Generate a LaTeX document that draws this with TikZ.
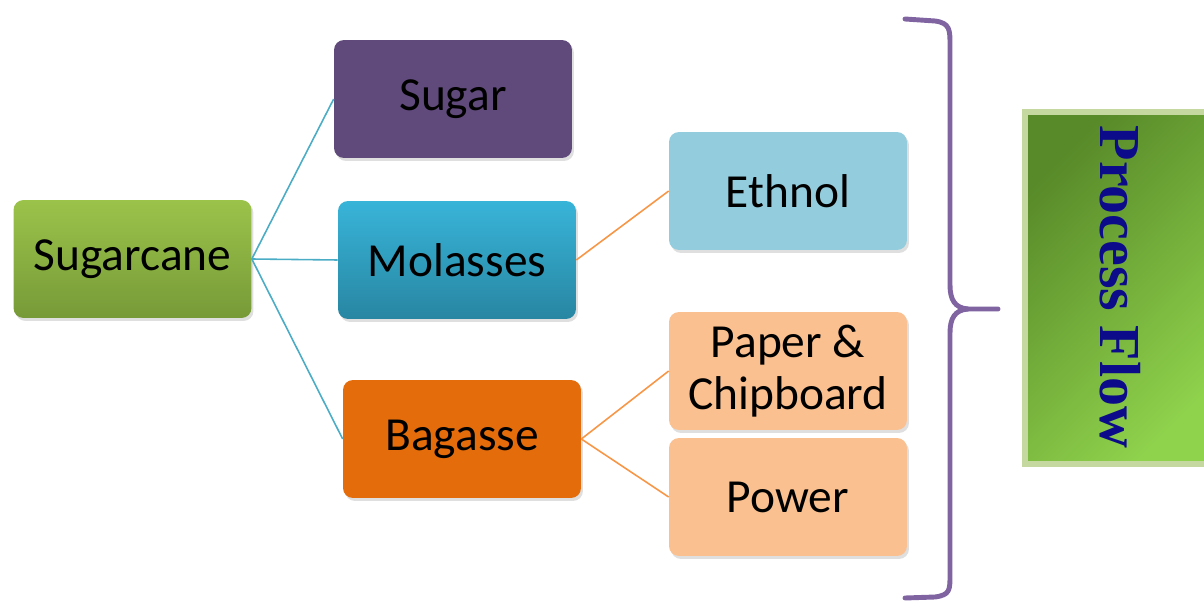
\documentclass[tikz,border=0pt]{standalone}
\usepackage{fontspec}
\setmainfont{Carlito}
\newfontfamily\titlefont{Liberation Serif}
\usetikzlibrary{shadows}
\definecolor{canegreen}{HTML}{9BC34A}
\definecolor{canegreendark}{HTML}{779A38}
\definecolor{sugarpurple}{HTML}{604A7B}
\definecolor{molblue}{HTML}{38B4D9}
\definecolor{molbluedark}{HTML}{2886A2}
\definecolor{ethblue}{HTML}{93CDDD}
\definecolor{bagorange}{HTML}{E46C0A}
\definecolor{lightorange}{HTML}{FAC090}
\definecolor{linkblue}{HTML}{4BACC6}
\definecolor{linkorange}{HTML}{F79646}
\definecolor{bracepurple}{HTML}{8064A2}
\definecolor{flowdark}{HTML}{588A29}
\definecolor{flowlight}{HTML}{8FD24C}
\definecolor{flowborder}{HTML}{C4D8A0}
\definecolor{flowtext}{HTML}{0C0C8A}
\tikzset{
  stage/.style={rounded corners=0.2cm, minimum width=4.76cm, minimum height=2.36cm,
    align=center, font=\fontsize{27}{29.5}\selectfont,
    drop shadow={opacity=0.25, shadow xshift=0.04cm, shadow yshift=-0.06cm}},
  link/.style={line width=0.9pt}
}
\begin{document}
\begin{tikzpicture}[x=0.02cm,y=-0.02cm]
	\useasboundingbox (0,0) rectangle (1204,601);

	% the boxes
		\node[stage, top color=canegreen, bottom color=canegreendark] (cane) at (132.5,259) {Sugarcane};
		\node[stage, fill=sugarpurple] (sugar) at (453,99) {Sugar};
		\node[stage, top color=molblue, bottom color=molbluedark] (molasses) at (457,260) {Molasses};
		\node[stage, fill=ethblue] (ethnol) at (788,191) {Ethnol};
		\node[stage, fill=bagorange] (bagasse) at (462,439) {Bagasse};
		\node[stage, fill=lightorange] (paper) at (788,371) {Paper \&\\Chipboard};
		\node[stage, fill=lightorange] (power) at (788,497) {Power};

	% the links
		\draw[link, linkblue] (cane.east) -- (sugar.west);
		\draw[link, linkblue] (cane.east) -- (molasses.west);
		\draw[link, linkblue] (cane.east) -- (bagasse.west);
		\draw[link, linkorange] (molasses.east) -- (ethnol.west);
		\draw[link, linkorange] (bagasse.east) -- (paper.west);
		\draw[link, linkorange] (bagasse.east) -- (power.west);

	% the brace
		\draw[bracepurple, line width=2.8pt, line cap=round, line join=round]
			(905,19) -- (935,21) .. controls (950,23) and (950,30) .. (950,45)
			-- (950,285) .. controls (950,300) and (955,308) .. (968,309) -- (998,309);
		\draw[bracepurple, line width=2.8pt, line cap=round, line join=round]
			(968,309) .. controls (955,310) and (950,318) .. (950,333)
			-- (950,575) .. controls (950,590) and (950,595) .. (935,597) -- (905,598);

	% the side panel
		\shade[top color=flowdark, bottom color=flowlight, shading angle=45, draw=flowborder, line width=3pt]
			(1025,112) rectangle (1215,464);
		\node[rotate=-90, text=flowtext, font=\titlefont\bfseries\fontsize{33}{36}\selectfont] (flow) at (1120,287) {Process Flow};
\end{tikzpicture}
\end{document}
